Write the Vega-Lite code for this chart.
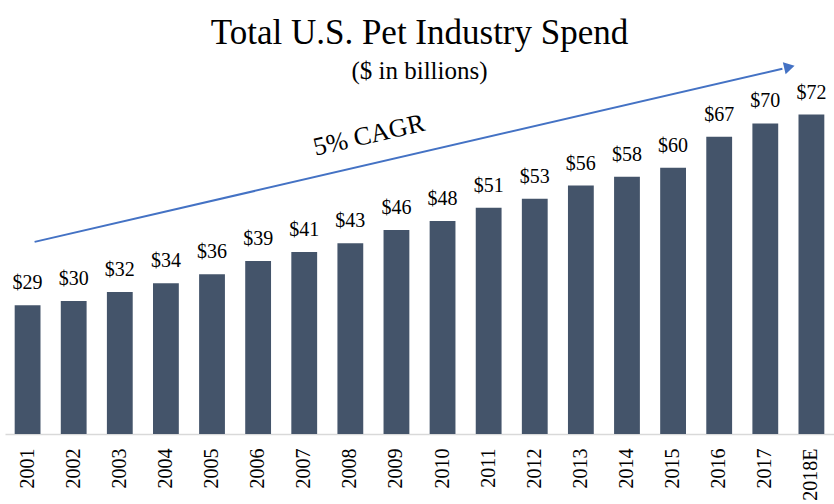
{
  "$schema": "https://vega.github.io/schema/vega-lite/v6.json",
  "autosize": {"type": "none"},
  "width": 829,
  "height": 355,
  "padding": {"left": 5, "right": 0, "top": 79, "bottom": 70},
  "background": "white",
  "title": {
    "text": "Total U.S. Pet Industry Spend",
    "subtitle": "($ in billions)",
    "anchor": "middle",
    "font": "Liberation Serif",
    "fontSize": 35,
    "fontWeight": "normal",
    "color": "black",
    "subtitleFont": "Liberation Serif",
    "subtitleFontSize": 25,
    "subtitleColor": "black",
    "subtitlePadding": 8,
    "offset": -22
  },
  "config": {"view": {"stroke": null}},
  "datasets": {
    "spend": [
      {"year": "2001", "value": 29},
      {"year": "2002", "value": 30},
      {"year": "2003", "value": 32},
      {"year": "2004", "value": 34},
      {"year": "2005", "value": 36},
      {"year": "2006", "value": 39},
      {"year": "2007", "value": 41},
      {"year": "2008", "value": 43},
      {"year": "2009", "value": 46},
      {"year": "2010", "value": 48},
      {"year": "2011", "value": 51},
      {"year": "2012", "value": 53},
      {"year": "2013", "value": 56},
      {"year": "2014", "value": 58},
      {"year": "2015", "value": 60},
      {"year": "2016", "value": 67},
      {"year": "2017", "value": 70},
      {"year": "2018E", "value": 72}
    ],
    "arrow": [
      {"x1": "2001", "x2": "2018E", "y1": 43.3, "y2": 82.3}
    ],
    "head": [
      {"year": "2018E", "value": 82.7}
    ],
    "note": [
      {"year": "2008", "value": 64.5, "label": "5% CAGR"}
    ]
  },
  "layer": [
    {
      "data": {"name": "spend"},
      "mark": {"type": "bar", "color": "#44546A"},
      "encoding": {
        "x": {
          "field": "year",
          "type": "ordinal",
          "sort": null,
          "scale": {"paddingInner": 0.44, "paddingOuter": 0.21},
          "axis": {
            "title": null,
            "labelAngle": -90,
            "labelFont": "Liberation Serif",
            "labelFontSize": 20,
            "labelColor": "black",
            "labelPadding": 14,
            "ticks": false,
            "domainColor": "#d9d9d9",
            "domainWidth": 1.5,
            "grid": false
          }
        },
        "y": {
          "field": "value",
          "type": "quantitative",
          "scale": {"domain": [0, 80], "nice": false},
          "axis": null
        }
      }
    },
    {
      "data": {"name": "spend"},
      "mark": {"type": "text", "baseline": "bottom", "dy": -12, "font": "Liberation Serif", "fontSize": 20, "color": "black"},
      "encoding": {
        "x": {"field": "year", "type": "ordinal", "sort": null},
        "y": {"field": "value", "type": "quantitative"},
        "text": {"field": "value", "type": "quantitative", "format": "$.0f"}
      }
    },
    {
      "data": {"name": "arrow"},
      "mark": {"type": "rule", "color": "#4472C4", "strokeWidth": 2, "xOffset": 7, "x2Offset": -29},
      "encoding": {
        "x": {"field": "x1", "type": "ordinal", "sort": null},
        "x2": {"field": "x2"},
        "y": {"field": "y1", "type": "quantitative"},
        "y2": {"field": "y2"}
      }
    },
    {
      "data": {"name": "head"},
      "mark": {"type": "point", "shape": "triangle-right", "filled": true, "color": "#4472C4", "size": 150, "angle": 347, "opacity": 1, "xOffset": -22},
      "encoding": {
        "x": {"field": "year", "type": "ordinal", "sort": null},
        "y": {"field": "value", "type": "quantitative"}
      }
    },
    {
      "data": {"name": "note"},
      "mark": {"type": "text", "angle": 347, "align": "center", "baseline": "alphabetic", "font": "Liberation Serif", "fontSize": 26, "color": "black", "dx": 21},
      "encoding": {
        "x": {"field": "year", "type": "ordinal", "sort": null},
        "y": {"field": "value", "type": "quantitative"},
        "text": {"field": "label"}
      }
    }
  ]
}
